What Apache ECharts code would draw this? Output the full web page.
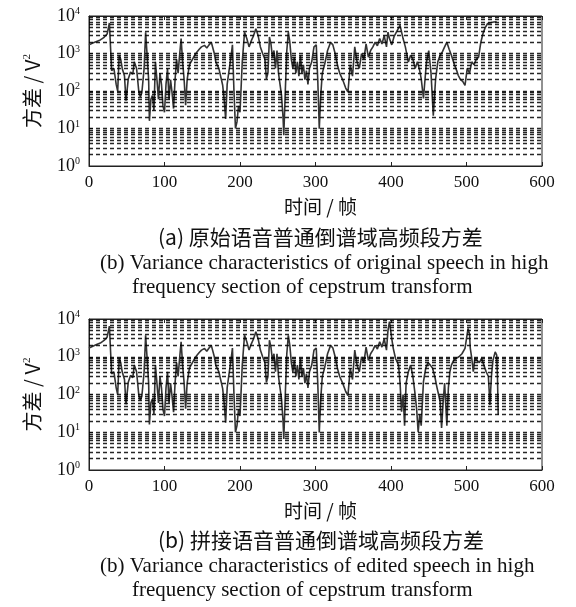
<!DOCTYPE html>
<html>
<head>
<meta charset="utf-8">
<script src="https://cdn.jsdelivr.net/npm/echarts@6/dist/echarts.min.js"></script>
<style>
  html, body { margin: 0; padding: 0; background: #fff; }
  #main { width: 576px; height: 607px; }
</style>
</head>
<body>
<div id="main"></div>
<script>
// 两幅图共用的前段（帧 0 ~ 394）
var framesCommon = [0,5,10,15,20,24,27,30,33,36,38,40,42,44,47,49,52,55,58,60,63,66,68,70,73,75,77,79,80,82,84,86,88,90,92,94,96,98,100,102,104,106,108,110,112,114,116,118,120,122,124,126,128,130,133,137,140,143,146,149,153,156,159,162,164,166,168,172,177,179,181,183,185,188,190,192,194,196,198,200,203,206,209,212,215,218,221,224,227,230,233,235,237,239,241,243,245,247,249,251,253,255,257,258,260,262,264,266,268,270,272,274,276,278,280,282,284,286,288,290,292,295,298,301,303,305,307,309,312,316,320,323,326,329,332,336,340,343,346,349,352,355,358,361,364,367,370,373,376,379,382,385,388,391,394];
var valuesCommon = [1700,1900,2100,2300,2700,3300,6500,350,400,150,100,900,700,400,250,55,210,320,280,600,400,95,70,90,400,3700,900,200,16,60,76,30,600,200,60,300,150,40,27,150,400,60,200,90,34,200,700,300,900,2500,600,200,42,200,500,700,900,1100,1300,1500,1650,1400,1700,2000,1800,1000,590,400,145,60,18,150,300,800,1700,100,10,15,40,27,600,3700,2500,1500,2200,3000,4600,3000,1500,1000,700,210,300,2750,1800,800,1200,400,1200,300,150,76,20,6.6,100,1200,3700,2000,700,400,800,300,600,250,900,300,500,200,350,150,400,600,1500,1700,200,9.8,80,300,500,1200,2000,1700,1000,500,300,200,120,94,500,250,1500,600,400,1000,700,1800,800,1200,1500,2000,1600,2500,1800,3000,1500];

// (a) 原始语音 后段
var framesTailA = [396,398,401,404,408,412,416,419,423,426,429,432,435,438,440,443,445,447,450,453,456,459,462,465,468,471,474,477,480,484,487,489,492,495,498,501,504,507,510,513,516,519,522,525,528,532,536,540];
var valuesTailA = [3700,2500,1700,2800,4000,5600,2500,1500,590,900,700,400,600,350,213,63,200,590,1200,300,22,200,600,900,1100,1500,2000,1300,900,500,350,263,200,180,141,400,300,600,500,700,800,2000,3500,5000,6300,6600,6900,7000];

// (b) 拼接语音 后段
var framesTailB = [396,398,401,403,406,410,412,414,416,418,420,423,426,429,432,434,436,438,440,443,446,449,452,455,458,461,463,465,467,469,471,474,476,478,480,483,486,490,494,498,500,502,504,505,507,509,511,514,517,520,523,526,529,531,533,535,538,540,541,542];
var valuesTailB = [5000,8500,3000,1670,900,600,200,35,100,15,200,400,600,300,98,40,10,30,15,220,500,700,600,500,300,150,100,65,13,60,200,15,150,400,600,800,900,1000,1200,1670,3000,5600,4000,1700,900,400,900,800,700,900,600,400,300,53,300,800,1350,1100,300,29];

// 虚线网格位置（对数刻度 2~9 × 10^k 以及 10^k）
var gridValues = [2,3,4,5,6,7,8,9,10,20,30,40,50,60,70,80,90,100,200,300,400,500,600,700,800,900,1000,2000,3000,4000,5000,6000,7000,8000,9000];

var captionsA = ['(a) 原始语音普通倒谱域高频段方差', '(b) Variance characteristics of original speech in high', 'frequency section of cepstrum transform'];
var captionsB = ['(b) 拼接语音普通倒谱域高频段方差', '(b) Variance characteristics of edited speech in high', 'frequency section of cepstrum transform'];

function zip(xs, ys) {
    var out = [];
    for (var i = 0; i < xs.length; i++) out.push([xs[i], ys[i]]);
    return out;
}
var dataA = zip(framesCommon.concat(framesTailA), valuesCommon.concat(valuesTailA));
var dataB = zip(framesCommon.concat(framesTailB), valuesCommon.concat(valuesTailB));

var serif = '"Liberation Serif", "Noto Sans CJK SC", serif';
var cjk = '"Noto Sans CJK SC", "Liberation Serif", sans-serif';

var myChart = echarts.init(document.getElementById('main'), null, {renderer: 'canvas'});

function xAxisOf(gi, pos, labels) {
    return {
        type: 'value', gridIndex: gi, position: pos, min: 0, max: 600, interval: 100,
        axisLine: {show: true, lineStyle: {color: '#222', width: 1}},
        axisTick: {show: true, inside: true, length: 4, lineStyle: {color: '#222'}},
        axisLabel: {show: labels, fontFamily: serif, fontSize: 17, color: '#111', margin: 8},
        splitLine: {show: false},
        name: labels ? '时间 / 帧' : '', nameLocation: 'middle', nameGap: 31,
        nameTextStyle: {fontFamily: cjk, fontSize: 19, color: '#111', padding: [0, 0, 0, 10]}
    };
}
function yAxisOf(gi) {
    return {
        type: 'log', logBase: 10, gridIndex: gi, min: 1, max: 10000,
        axisLine: {show: true, lineStyle: {color: '#222', width: 1}},
        axisTick: {show: true, inside: true, length: 4, lineStyle: {color: '#222'}},
        splitLine: {show: false},
        axisLabel: {
            margin: 9,
            formatter: function (v) {
                var e = Math.round(Math.log(v) / Math.LN10);
                return '{b|10}{s|' + e + '}';
            },
            rich: {
                b: {fontFamily: serif, fontSize: 18, color: '#111'},
                s: {fontFamily: serif, fontSize: 10, color: '#111', verticalAlign: 'top', padding: [0, 0, 9, 0]}
            }
        },
        name: '方差 / V{s|2}', nameLocation: 'middle', nameGap: 46, nameRotate: 90,
        nameTextStyle: {
            fontFamily: cjk, fontSize: 20, color: '#111',
            rich: {s: {fontFamily: serif, fontSize: 11, color: '#111', verticalAlign: 'top', padding: [0, 0, 10, 0]}}
        }
    };
}
function gridSeries(i) {
    return {
        type: 'line', xAxisIndex: i * 2, yAxisIndex: i, data: [[0, 1]],
        showSymbol: false, silent: true, z: 1, lineStyle: {width: 0},
        markLine: {
            silent: true, symbol: 'none', animation: false,
            label: {show: false},
            lineStyle: {color: '#000', width: 1.4, type: [4, 3], opacity: 0.85},
            data: gridValues.map(function (v) { return {yAxis: v}; })
        }
    };
}
function dataSeries(i, d) {
    return {
        type: 'line', xAxisIndex: i * 2, yAxisIndex: i, data: d,
        showSymbol: false, smooth: false, z: 3, animation: false,
        lineStyle: {color: '#333', width: 1.6}
    };
}
function captionText(lines, tops) {
    return [
        {type: 'text', left: 158, top: tops[0], style: {text: lines[0], font: '21px ' + cjk, fill: '#111'}},
        {type: 'text', left: 100, top: tops[1], style: {text: lines[1], font: '21px ' + serif, fill: '#111'}},
        {type: 'text', left: 132, top: tops[2], style: {text: lines[2], font: '21px ' + serif, fill: '#111'}}
    ];
}

var option = {
    backgroundColor: '#FFFFFF',
    animation: false,
    grid: [
        {left: 89, top: 16, width: 453, height: 150, show: true, borderColor: '#222', borderWidth: 1, backgroundColor: 'transparent'},
        {left: 89, top: 319, width: 453, height: 151, show: true, borderColor: '#222', borderWidth: 1, backgroundColor: 'transparent'}
    ],
    xAxis: [
        xAxisOf(0, 'bottom', true), xAxisOf(0, 'top', false),
        xAxisOf(1, 'bottom', true), xAxisOf(1, 'top', false)
    ],
    yAxis: [yAxisOf(0), yAxisOf(1)],
    series: [gridSeries(0), gridSeries(1), dataSeries(0, dataA), dataSeries(1, dataB)],
    graphic: captionText(captionsA, [227, 253, 277]).concat(captionText(captionsB, [530, 556, 580]))
};

myChart.setOption(option);
window.onresize = function () {
    myChart.resize();
};
</script>
</body>
</html>
